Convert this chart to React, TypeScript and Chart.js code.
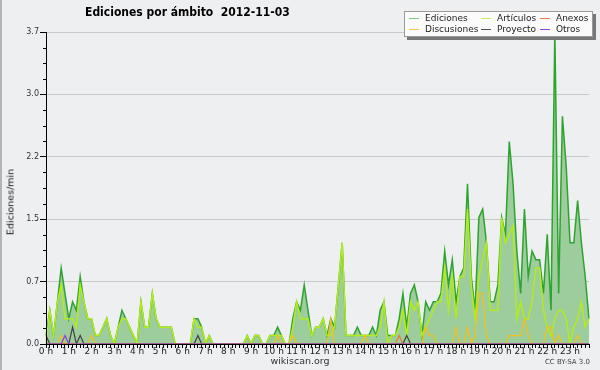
import React, { useEffect, useRef } from "react";
import { Chart, registerables } from "chart.js";

Chart.register(...registerables);

// ---------- data ----------
const HOURS = [
  "0 h", "1 h", "2 h", "3 h", "4 h", "5 h", "6 h", "7 h", "8 h", "9 h", "10 h", "11 h",
  "12 h", "13 h", "14 h", "15 h", "16 h", "17 h", "18 h", "19 h", "20 h", "21 h", "22 h", "23 h",
];
const MINUTES = ["00", "10", "20", "30", "40", "50"];
const SLOTS = HOURS.flatMap((h) => MINUTES.map((m) => `${h.replace(" h", "")}:${m}`));

const Y_TICKS = [0, 0.74, 1.48, 2.22, 2.96, 3.7];
const Y_MINOR = [0.185, 0.37, 0.555, 0.925, 1.11, 1.295, 1.665, 1.85, 2.035, 2.405, 2.59, 2.775, 3.145, 3.33, 3.515];

const EDICIONES = [
  0.1, 0.4, 0.1, 0.5, 0.9, 0.6, 0.3, 0.5, 0.4, 0.8, 0.5, 0.3,
  0.3, 0.1, 0.1, 0.2, 0.3, 0.1, 0, 0.2, 0.4, 0.3, 0.2, 0.1,
  0, 0.5, 0.2, 0.2, 0.6, 0.3, 0.2, 0.2, 0.2, 0.2, 0, 0,
  0, 0, 0, 0.3, 0.3, 0.2, 0, 0.1, 0, 0, 0, 0,
  0, 0, 0, 0, 0, 0.1, 0, 0.1, 0.1, 0, 0, 0.1,
  0.1, 0.2, 0.1, 0, 0, 0.3, 0.5, 0.4, 0.7, 0.4, 0.1, 0.2,
  0.2, 0.3, 0.1, 0.3, 0.2, 0.7, 1.2, 0.1, 0.1, 0.1, 0.2, 0.1,
  0.1, 0.1, 0.2, 0.1, 0.4, 0.5, 0.1, 0.1, 0.1, 0.3, 0.6, 0.2,
  0.6, 0.7, 0.5, 0.1, 0.5, 0.4, 0.5, 0.5, 0.6, 1.1, 0.7, 1.0,
  0.5, 0.8, 0.9, 1.9, 0.8, 0.4, 1.5, 1.6, 1.2, 0.5, 0.5, 0.7,
  1.5, 1.3, 2.4, 1.9, 1.1, 0.6, 1.6, 0.8, 1.1, 1.0, 1.0, 0.6,
  1.3, 0.4, 3.7, 0.6, 2.7, 2.1, 1.2, 1.2, 1.7, 1.2, 0.8, 0.3,
];

const ARTICULOS = [
  0, 0.4, 0.1, 0.5, 0.7, 0.3, 0.3, 0.3, 0.2, 0.7, 0.5, 0.3,
  0.3, 0.1, 0.1, 0.2, 0.3, 0.1, 0, 0.2, 0.3, 0.3, 0.2, 0.1,
  0, 0.5, 0.2, 0.2, 0.6, 0.3, 0.2, 0.2, 0.2, 0.2, 0, 0,
  0, 0, 0, 0.3, 0.2, 0.2, 0, 0.1, 0, 0, 0, 0,
  0, 0, 0, 0, 0, 0.1, 0, 0.1, 0.1, 0, 0, 0.1,
  0.1, 0.1, 0.1, 0, 0, 0.2, 0.5, 0.3, 0.3, 0.3, 0.1, 0.2,
  0.2, 0.3, 0.1, 0.1, 0.2, 0.7, 1.2, 0.1, 0.1, 0.1, 0.1, 0.1,
  0.1, 0.1, 0.1, 0.1, 0.2, 0.5, 0, 0.1, 0.1, 0.2, 0.4, 0.1,
  0.5, 0.4, 0.5, 0.1, 0.2, 0.3, 0.4, 0.5, 0.5, 0.9, 0.4, 0.8,
  0.3, 0.8, 0.8, 1.6, 0.7, 0.3, 0.8, 1.0, 1.2, 0.4, 0.4, 0.4,
  1.5, 1.2, 1.3, 1.4, 0.3, 0.5, 0.3, 0.3, 0.5, 0.9, 0.9, 0.4,
  0.2, 0.1, 0.3, 0.4, 0.4, 0.3, 0, 0.2, 0.3, 0.5, 0.2, 0.3,
];

const DISCUSIONES = [
  0, 0, 0, 0, 0.1, 0, 0, 0, 0, 0, 0, 0,
  0.1, 0, 0, 0, 0, 0, 0, 0, 0, 0, 0, 0,
  0, 0, 0, 0, 0, 0, 0, 0, 0, 0, 0, 0,
  0, 0, 0, 0, 0, 0, 0, 0, 0, 0, 0, 0,
  0, 0, 0, 0, 0, 0, 0, 0, 0, 0, 0, 0,
  0, 0.1, 0, 0, 0, 0.1, 0, 0, 0, 0, 0, 0,
  0, 0, 0, 0.3, 0, 0, 0, 0, 0, 0, 0, 0,
  0.1, 0, 0, 0, 0, 0, 0, 0, 0, 0, 0, 0,
  0, 0, 0, 0, 0.2, 0.1, 0.1, 0, 0, 0, 0, 0,
  0.2, 0, 0, 0.2, 0, 0.1, 0.6, 0.6, 0.1, 0, 0, 0,
  0, 0, 0.1, 0.1, 0.1, 0.1, 0.3, 0.1, 0, 0, 0, 0,
  0.2, 0.2, 0, 0.1, 0, 0, 0, 0, 0.1, 0, 0, 0,
];

const PROYECTO = [
  0.1, 0, 0, 0, 0, 0, 0, 0.2, 0, 0.1, 0, 0,
  0, 0, 0, 0, 0, 0, 0, 0, 0, 0, 0, 0,
  0, 0, 0, 0, 0, 0, 0, 0, 0, 0, 0, 0,
  0, 0, 0, 0, 0.1, 0, 0, 0, 0, 0, 0, 0,
  0, 0, 0, 0, 0, 0, 0, 0, 0, 0, 0, 0,
  0, 0, 0, 0, 0, 0, 0, 0, 0, 0, 0, 0,
  0, 0, 0, 0, 0, 0, 0, 0, 0, 0, 0, 0,
  0, 0, 0, 0, 0, 0, 0, 0, 0, 0, 0, 0.1,
  0, 0, 0, 0, 0, 0, 0, 0, 0, 0, 0, 0,
  0, 0, 0, 0, 0, 0, 0, 0, 0, 0, 0, 0,
  0, 0, 0, 0, 0, 0, 0, 0, 0, 0, 0, 0,
  0, 0, 0, 0, 0, 0, 0, 0, 0, 0, 0, 0,
];

const ANEXOS = [
  0, 0, 0, 0, 0, 0, 0, 0, 0, 0, 0, 0,
  0, 0, 0, 0, 0, 0, 0, 0, 0, 0, 0, 0,
  0, 0, 0, 0, 0, 0, 0, 0, 0, 0, 0, 0,
  0, 0, 0, 0, 0, 0, 0, 0, 0, 0, 0, 0,
  0, 0, 0, 0, 0, 0, 0, 0, 0, 0, 0, 0,
  0, 0, 0, 0, 0, 0, 0, 0, 0, 0, 0, 0,
  0, 0, 0, 0, 0, 0, 0, 0, 0, 0, 0, 0,
  0, 0, 0, 0, 0, 0, 0, 0, 0, 0.1, 0, 0,
  0, 0, 0, 0, 0, 0, 0, 0, 0, 0, 0, 0,
  0, 0, 0, 0, 0, 0, 0, 0, 0, 0, 0, 0,
  0, 0, 0, 0, 0, 0, 0, 0, 0, 0, 0, 0,
  0, 0, 0, 0, 0, 0, 0, 0, 0, 0, 0, 0,
];

const OTROS = [
  0, 0, 0, 0, 0, 0.1, 0, 0, 0, 0, 0, 0,
  0, 0, 0, 0, 0, 0, 0, 0, 0, 0, 0, 0,
  0, 0, 0, 0, 0, 0, 0, 0, 0, 0, 0, 0,
  0, 0, 0, 0, 0, 0, 0, 0, 0, 0, 0, 0,
  0, 0, 0, 0, 0, 0, 0, 0, 0, 0, 0, 0,
  0, 0, 0, 0, 0, 0, 0, 0, 0, 0, 0, 0,
  0, 0, 0, 0, 0, 0, 0, 0, 0, 0, 0, 0,
  0, 0, 0, 0, 0, 0, 0, 0, 0, 0, 0, 0,
  0, 0, 0, 0, 0, 0, 0, 0, 0, 0, 0, 0,
  0, 0, 0, 0, 0, 0, 0, 0, 0, 0, 0, 0,
  0, 0, 0, 0, 0, 0, 0, 0, 0, 0, 0, 0,
  0, 0, 0, 0, 0, 0, 0, 0, 0, 0, 0, 0,
];

const TITLE = "Ediciones por ámbito  2012-11-03";
const Y_TITLE = "Ediciones/min";
const SOURCE = "wikiscan.org";
const LICENSE = "CC BY-SA 3.0";

type Series = { name: string; data: number[]; color: string; swatch: string; width: number; order: number; fill?: string };

const SERIES: Series[] = [
  { name: "Ediciones", data: EDICIONES, color: "#2fa32f", swatch: "#7dcb7d", width: 1.5, order: 6, fill: "rgb(157,204,157)" },
  { name: "Artículos", data: ARTICULOS, color: "#b2ec1c", swatch: "#c6ef5a", width: 1.5, order: 5 },
  { name: "Anexos", data: ANEXOS, color: "#f07838", swatch: "#ef7f4f", width: 1.2, order: 2 },
  { name: "Discusiones", data: DISCUSIONES, color: "#f2c21b", swatch: "#f5cc3c", width: 1.2, order: 4 },
  { name: "Proyecto", data: PROYECTO, color: "#404040", swatch: "#555555", width: 1.2, order: 3 },
  { name: "Otros", data: OTROS, color: "#8a3ee0", swatch: "#8f45e5", width: 1.2, order: 1 },
];

// legend layout: 3 columns x 2 rows
const LEGEND_ROWS = [
  ["Ediciones", "Artículos", "Anexos"],
  ["Discusiones", "Proyecto", "Otros"],
];
const LEGEND_COLS = [4, 76, 135];

const minorTicksPlugin = {
  id: "minorTicks",
  afterDraw(chart: any) {
    const y = chart.scales.y;
    const ctx = chart.ctx;
    ctx.save();
    ctx.strokeStyle = "#000";
    ctx.lineWidth = 1;
    for (const v of Y_MINOR) {
      const py = Math.round(y.getPixelForValue(v)) + 0.5;
      ctx.beginPath();
      ctx.moveTo(y.right - 3, py);
      ctx.lineTo(y.right, py);
      ctx.stroke();
    }
    ctx.restore();
  },
};

const FONT = "'DejaVu Sans', sans-serif";
const FONT_COND = "'DejaVu Sans Condensed', 'DejaVu Sans', sans-serif";

export default function App() {
  const ref = useRef<HTMLCanvasElement | null>(null);

  useEffect(() => {
    if (!ref.current) return;
    const chart = new Chart(ref.current, {
      type: "line",
      data: {
        labels: SLOTS,
        datasets: SERIES.map((s) => ({
          label: s.name,
          data: s.data,
          borderColor: s.color,
          backgroundColor: s.fill || s.color,
          borderWidth: s.width,
          fill: s.fill ? "origin" : false,
          pointRadius: 0,
          tension: 0,
          order: s.order,
        })),
      },
      options: {
        animation: false,
        responsive: false,
        devicePixelRatio: 1,
        events: [],
        layout: { padding: { top: 32, right: 11, left: 0, bottom: 0 } },
        plugins: {
          legend: { display: false },
          title: { display: false },
          tooltip: { enabled: false },
        },
        scales: {
          x: {
            type: "category",
            offset: false,
            afterFit: (scale: any) => {
              scale.height = 26;
            },
            grid: {
              offset: false,
              drawOnChartArea: false,
              drawTicks: true,
              tickLength: 4,
              tickColor: "#000",
              tickWidth: 1,
            },
            border: { display: true, color: "#000", width: 1, z: 1 },
            ticks: {
              autoSkip: false,
              maxRotation: 0,
              minRotation: 0,
              padding: -2,
              color: "#222",
              font: { family: FONT, size: 9 },
              callback: (_v: any, i: number) => (i % 6 === 0 ? HOURS[i / 6] : ""),
            },
          },
          y: {
            type: "linear",
            min: 0,
            max: 3.7,
            afterFit: (scale: any) => {
              scale.width = 46;
            },
            afterBuildTicks: (scale: any) => {
              scale.ticks = Y_TICKS.map((v) => ({ value: v }));
            },
            grid: {
              color: "#c9c9c9",
              lineWidth: 1,
              drawTicks: true,
              tickLength: 6,
              tickColor: "#000",
            },
            border: { display: true, color: "#000", width: 1, z: 1 },
            ticks: {
              padding: 1,
              color: "#333",
              font: { family: FONT, size: 8 },
              callback: (v: any) => Number(v).toFixed(1),
            },
          },
        },
      },
      plugins: [minorTicksPlugin],
    });
    return () => chart.destroy();
  }, []);

  const byName: Record<string, Series> = {};
  SERIES.forEach((s) => (byName[s.name] = s));

  return (
    <div
      style={{
        position: "absolute",
        left: 0,
        top: 0,
        width: 600,
        height: 370,
        background: "#eeeff1",
        overflow: "hidden",
        fontFamily: FONT,
        boxSizing: "border-box",
        borderLeft: "2px solid #b4b4b4",
      }}
    >
      <canvas ref={ref} width={600} height={370} style={{ position: "absolute", left: -2, top: 0, width: 600, height: 370 }} />
      <div
        style={{
          position: "absolute",
          left: 83,
          top: 5,
          fontSize: 12,
          fontWeight: "bold",
          fontFamily: FONT_COND,
          fontStretch: "condensed",
          color: "#000",
          whiteSpace: "pre",
          lineHeight: "14px",
        }}
      >
        {TITLE}
      </div>
      <div
        style={{
          position: "absolute",
          left: 8,
          top: 202,
          transform: "translate(-50%, -50%) rotate(-90deg)",
          fontSize: 9.5,
          color: "#111",
          whiteSpace: "pre",
        }}
      >
        {Y_TITLE}
      </div>
      <div
        style={{
          position: "absolute",
          left: 298,
          top: 355,
          transform: "translateX(-50%)",
          fontSize: 9.5,
          color: "#333",
          whiteSpace: "pre",
        }}
      >
        {SOURCE}
      </div>
      <div
        style={{
          position: "absolute",
          right: 10,
          top: 358,
          fontSize: 7,
          color: "#444",
          whiteSpace: "pre",
        }}
      >
        {LICENSE}
      </div>
      <div
        style={{
          position: "absolute",
          left: 402,
          top: 11,
          width: 187,
          height: 24,
          background: "#fbfbfb",
          border: "1px solid #9a9a9a",
          boxShadow: "3px 3px 0 #777",
        }}
      >
        {LEGEND_ROWS.map((row, r) =>
          row.map((name, c) => {
            const s = byName[name];
            return (
              <div
                key={name}
                style={{
                  position: "absolute",
                  left: LEGEND_COLS[c],
                  top: 1 + r * 10.5,
                  height: 11,
                  display: "flex",
                  alignItems: "center",
                  whiteSpace: "pre",
                }}
              >
                <span style={{ display: "inline-block", width: 10, height: 1, background: s.swatch, marginRight: 6 }} />
                <span style={{ fontSize: 9, color: "#222", lineHeight: "11px" }}>{name}</span>
              </div>
            );
          })
        )}
      </div>
    </div>
  );
}
